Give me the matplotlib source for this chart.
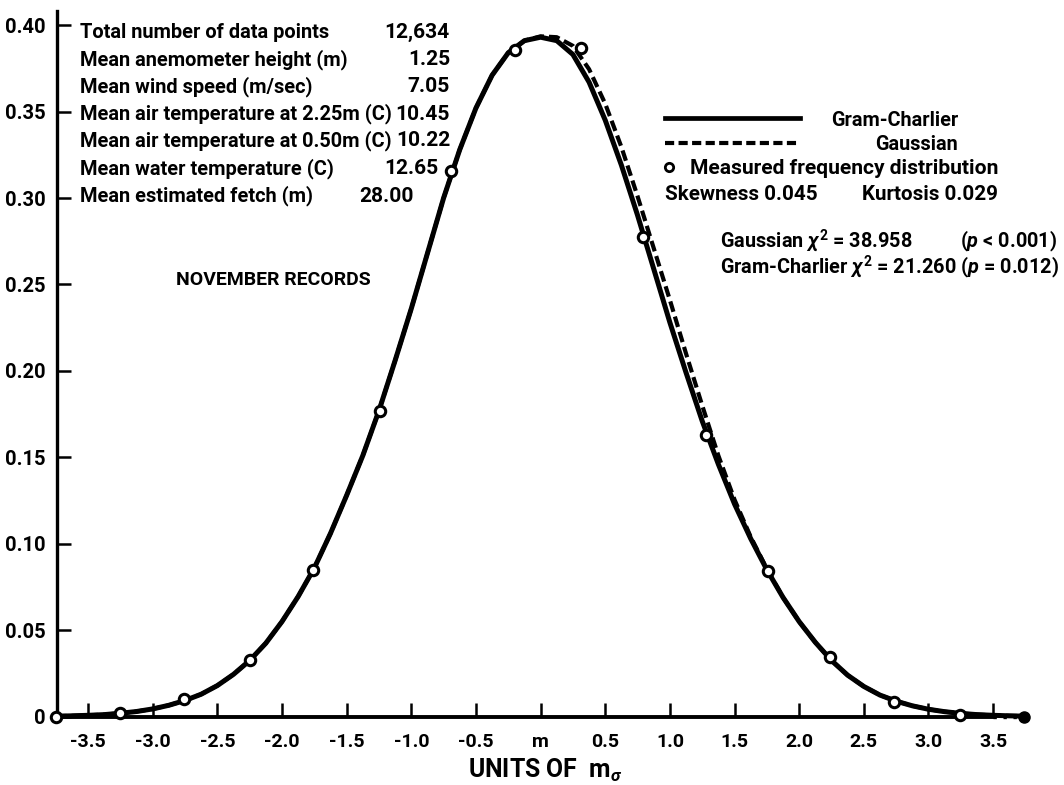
import matplotlib
matplotlib.use("Agg")
import matplotlib.pyplot as plt
from matplotlib.lines import Line2D

# Theoretical curves, in units of the standard deviation from the mean
curve_x = [-3.75, -3.625, -3.5, -3.375, -3.25, -3.125, -3.0, -2.875, -2.75, -2.625,
           -2.5, -2.375, -2.25, -2.125, -2.0, -1.875, -1.75, -1.625, -1.5, -1.375,
           -1.25, -1.125, -1.0, -0.875, -0.75, -0.625, -0.5, -0.375, -0.25, -0.125,
           0.0, 0.125, 0.25, 0.375, 0.5, 0.625, 0.75, 0.875, 1.0, 1.125,
           1.25, 1.375, 1.5, 1.625, 1.75, 1.875, 2.0, 2.125, 2.25, 2.375,
           2.5, 2.625, 2.75, 2.875, 3.0, 3.125, 3.25, 3.375, 3.5, 3.625, 3.75]
gram_charlier = [0.0003, 0.0005, 0.0008, 0.0012, 0.0020, 0.0030, 0.0045, 0.0066, 0.0094, 0.0130,
                 0.0180, 0.0245, 0.0325, 0.0425, 0.0550, 0.0695, 0.0860, 0.1060, 0.1280, 0.1510,
                 0.1770, 0.2060, 0.2360, 0.2680, 0.3000, 0.3280, 0.3520, 0.3710, 0.3840, 0.3910,
                 0.3930, 0.3910, 0.3830, 0.3670, 0.3450, 0.3190, 0.2900, 0.2590, 0.2280, 0.1990,
                 0.1710, 0.1460, 0.1230, 0.1030, 0.0850, 0.0690, 0.0550, 0.0430, 0.0325, 0.0240,
                 0.0175, 0.0125, 0.0090, 0.0063, 0.0043, 0.0029, 0.0019, 0.0012, 0.0008, 0.0005,
                 0.0003]
gaussian = [0.0003, 0.0005, 0.0008, 0.0012, 0.0020, 0.0030, 0.0045, 0.0066, 0.0094, 0.0130,
            0.0180, 0.0245, 0.0325, 0.0425, 0.0550, 0.0695, 0.0860, 0.1060, 0.1280, 0.1510,
            0.1770, 0.2060, 0.2360, 0.2680, 0.3000, 0.3280, 0.3520, 0.3710, 0.3840, 0.3910,
            0.3935, 0.3930, 0.3880, 0.3745, 0.3545, 0.3295, 0.3010, 0.2710, 0.2410, 0.2100,
            0.1800, 0.1510, 0.1255, 0.1040, 0.0855, 0.0690, 0.0550, 0.0430, 0.0325, 0.0240,
            0.0175, 0.0125, 0.0090, 0.0063, 0.0043, 0.0029, 0.0019, 0.0012, 0.0008, 0.0005,
            0.0003]

# Measured frequency distribution
measured_x = [-3.75, -3.25, -2.76, -2.25, -1.757, -1.24, -0.69, -0.20,
              0.31, 0.79, 1.28, 1.757, 2.24, 2.73, 3.24]
measured_y = [0.0, 0.002, 0.010, 0.033, 0.085, 0.177, 0.3155, 0.3855,
              0.387, 0.2775, 0.163, 0.084, 0.0347, 0.0087, 0.001]

x_ticks = [-3.5, -3.0, -2.5, -2.0, -1.5, -1.0, -0.5, 0.0, 0.5, 1.0, 1.5, 2.0, 2.5, 3.0, 3.5]
x_tick_labels = ["-3.5", "-3.0", "-2.5", "-2.0", "-1.5", "-1.0", "-0.5", "m",
                 "0.5", "1.0", "1.5", "2.0", "2.5", "3.0", "3.5"]
y_ticks = [0.0, 0.05, 0.10, 0.15, 0.20, 0.25, 0.30, 0.35, 0.40]
y_tick_labels = ["0", "0.05", "0.10", "0.15", "0.20", "0.25", "0.30", "0.35", "0.40"]

stats_labels = ["Total number of data points",
                "Mean anemometer height (m)",
                "Mean wind speed (m/sec)",
                "Mean air temperature at 2.25m (C)",
                "Mean air temperature at 0.50m (C)",
                "Mean water temperature (C)",
                "Mean estimated fetch (m)"]
stats_values = ["12,634", "1.25", "7.05", "10.45", "10.22", "12.65", "28.00"]

W, H = 1064, 785
plt.rcParams["font.family"] = ["Roboto", "DejaVu Sans"]
plt.rcParams["font.weight"] = "bold"
plt.rcParams["mathtext.fontset"] = "custom"
plt.rcParams["mathtext.rm"] = "Roboto:bold"
plt.rcParams["mathtext.it"] = "Roboto:italic:bold"
plt.rcParams["mathtext.bf"] = "Roboto:bold"

fig = plt.figure(figsize=(W / 100, H / 100), dpi=100)
fig.patch.set_facecolor("white")
renderer = fig.canvas.get_renderer()


def fx(px):
    return px / W


def fy(py):
    return 1 - py / H


def fitted_size(s, width_px, base=12.0):
    t = fig.text(0, 0, s, fontsize=base, fontweight="bold")
    w = t.get_window_extent(renderer).width
    t.remove()
    return base * width_px / w


def put(s, x, y, size, ha="left"):
    fig.text(fx(x), fy(y), s, ha=ha, va="center", fontsize=size, fontweight="bold")


x_lo, x_hi = -3.74, 3.78
y_lo, y_hi = 0.0, 0.408
ax_left, ax_bottom = 57, 716.7
ax_w = (x_hi - x_lo) * 129.3
ax_h = (y_hi - y_lo) * 1729
ax = fig.add_axes([fx(ax_left), fy(ax_bottom), ax_w / W, ax_h / H])
ax.set_xlim(x_lo, x_hi)
ax.set_ylim(y_lo, y_hi)
ax.set_facecolor("none")

for side in ("top", "right"):
    ax.spines[side].set_visible(False)
ax.spines["left"].set_linewidth(2.4)
ax.spines["bottom"].set_linewidth(2.8)
ax.spines["bottom"].set_bounds(x_lo, 3.5)

# dotted run-out of the abscissa ending in a dot
ax.plot([3.5, 3.72], [0, 0], color="black", lw=2.4, ls=(0, (1, 2)), clip_on=False)
ax.plot([3.74], [0], marker="o", ms=8, color="black", clip_on=False)

dash = (0, (2.6, 1.2))
ax.plot(curve_x, gaussian, color="black", lw=3.0, ls=dash,
        solid_joinstyle="round", dash_capstyle="butt", clip_on=False)
ax.plot(curve_x, gram_charlier, color="black", lw=3.6, solid_joinstyle="round",
        solid_capstyle="round", clip_on=False)
ax.plot(measured_x, measured_y, ls="none", marker="o", ms=7.5, mfc="white",
        mec="black", mew=2.2, clip_on=False, zorder=5)

ax.set_xticks(x_ticks)
ax.set_xticklabels(x_tick_labels)
ax.set_yticks(y_ticks)
ax.set_yticklabels(y_tick_labels)
ax.tick_params(axis="both", direction="in", length=10, width=1.8)
ax.tick_params(axis="y", pad=8, labelsize=14.5)
ax.tick_params(axis="x", pad=12, labelsize=14)

put(r"UNITS OF  m$_\sigma$", 545, 770, fitted_size(r"UNITS OF  m$_\sigma$", 155),
    ha="center")

# Summary of the record set
row_y = [32, 59.5, 87, 114, 141, 169, 196]
value_right = [450, 450, 450, 450, 450, 438, 414]
label_size = fitted_size(stats_labels[3], 312)
value_size = fitted_size(stats_values[3], 54)
for label, value, yy, xr in zip(stats_labels, stats_values, row_y, value_right):
    put(label, 80, yy, label_size)
    put(value, xr, yy, value_size, ha="right")

put("NOVEMBER RECORDS", 176, 280, fitted_size("NOVEMBER RECORDS", 194))

# Key
gc_line = r"Gram-Charlier $\chi^2$ = 21.260 ($p$ = 0.012)"
key_size = fitted_size(gc_line, 338)
fig.add_artist(Line2D([fx(665), fx(800)], [fy(118), fy(118)], color="black", lw=3.4))
fig.add_artist(Line2D([fx(665), fx(800)], [fy(143), fy(143)], color="black", lw=3.0,
                      ls=(0, (2.2, 1.05))))
fig.add_artist(Line2D([fx(669)], [fy(167)], marker="o", ms=6, mfc="white",
                      mec="black", mew=2.0, ls="none"))
put("Gram-Charlier", 958, 120, key_size, ha="right")
put("Gaussian", 958, 145, key_size, ha="right")
put("Measured frequency distribution", 690, 168, key_size * 1.06)
put("Skewness 0.045", 665, 194, key_size * 1.04)
put("Kurtosis 0.029", 862, 194, key_size * 1.04)
put(r"Gaussian $\chi^2$ = 38.958", 720, 241, key_size)
put(r"($p$ < 0.001)", 1057, 241, key_size, ha="right")
put(gc_line, 720, 267, key_size)

fig.savefig("out.png", dpi=100, facecolor="white")
